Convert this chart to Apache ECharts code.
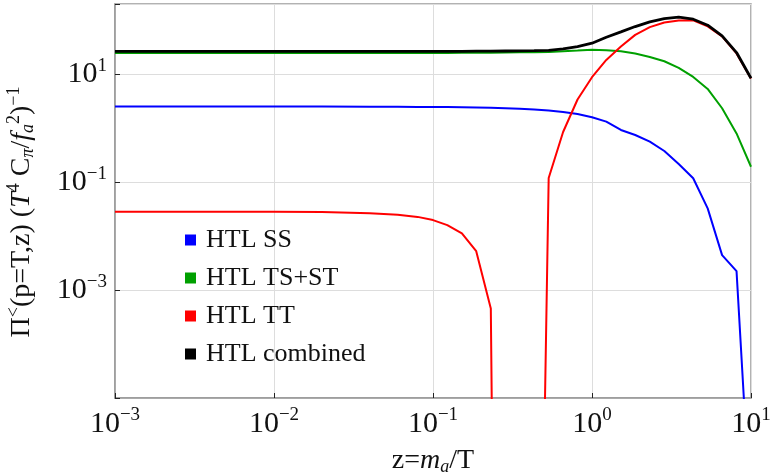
<!DOCTYPE html>
<html>
<head>
<meta charset="utf-8">
<script src="https://cdn.jsdelivr.net/npm/echarts@6/dist/echarts.min.js"></script>
<style>
  html, body { margin: 0; padding: 0; background: #fff; }
  #chart { width: 772px; height: 473px; }
</style>
</head>
<body>
<div id="chart"></div>
<script>
// z = m_a / T
const zValues = [0.001, 0.003, 0.01, 0.02, 0.04, 0.06, 0.08,
  0.1, 0.123, 0.152, 0.187, 0.231, 0.285, 0.351, 0.433, 0.534, 0.658, 0.811,
  1, 1.23, 1.52, 1.87, 2.31, 2.85, 3.51, 4.33, 5.34, 6.58, 8.11, 10];

const seriesNames = ['HTL SS', 'HTL TS+ST', 'HTL TT', 'HTL combined'];

const ssValues = [2.51, 2.51, 2.51, 2.51, 2.50, 2.49, 2.48,
  2.47, 2.46, 2.44, 2.42, 2.39, 2.35, 2.30, 2.23, 2.13, 2.0, 1.83,
  1.59, 1.32, 0.927, 0.748, 0.562, 0.378, 0.217, 0.118, 0.0326, 0.00444, 0.00224, 5e-8];

const tsValues = [24.6, 24.6, 24.6, 24.6, 24.6, 24.6, 24.6,
  24.7, 24.8, 24.9, 25.0, 25.1, 25.2, 25.4, 25.5, 25.7, 26.7, 27.4,
  28.3, 27.9, 26.7, 24.1, 20.9, 17.4, 13.1, 8.9, 5.33, 2.34, 0.80, 0.193];

// TT changes sign between ~0.25 and ~0.5 (null = negative, not drawn)
const ttValues = [0.0283, 0.0283, 0.0282, 0.0279, 0.0265, 0.0249, 0.0227,
  0.0198, 0.016, 0.0112, 0.00526, 4.55e-4, 1e-30, null, 1e-17, 0.119, 0.85, 3.4,
  8.8, 18.4, 32.5, 53.6, 74.5, 90.6, 98.7, 99.5, 77, 50.3, 24.3, 8.36];

const combinedValues = [26.5, 26.5, 26.5, 26.5, 26.5, 26.5, 26.5,
  26.5, 26.6, 26.6, 26.7, 26.8, 26.9, 27.0, 27.3, 27.7, 29.4, 32.5,
  37.6, 48.5, 60.9, 76.4, 93.3, 107.6, 114, 104.7, 81, 51.4, 25.2, 8.43];

const colors = ['#0000ff', '#00a000', '#ff0000', '#000000'];

const FONT = 'Liberation Serif';

function pairs(vals) {
  return zValues.map((z, i) => [z, vals[i] == null ? '-' : vals[i]]);
}

function powLabel(value) {
  const e = Math.round(Math.log10(value));
  if (Math.abs(Math.log10(value) - e) > 1e-6) return '';
  const s = e < 0 ? '\u2212' + (-e) : String(e);
  return '{b|10}{e|' + s + '}';
}

const labelRich = {
  b: { fontFamily: FONT, fontSize: 30, color: '#111' },
  e: { fontFamily: FONT, fontSize: 19, color: '#111', padding: [0, 0, 17, 0] }
};

const chart = echarts.init(document.getElementById('chart'));

const option = {
  animation: false,
  grid: {
    left: 115, right: 21, top: 4, bottom: 75,
    outerBoundsMode: 'none',
    containLabel: false,
    show: true, borderColor: '#999', borderWidth: 1.5
  },
  legend: {
    orient: 'vertical',
    left: 180, top: 222,
    icon: 'rect',
    itemWidth: 11, itemHeight: 11,
    itemGap: 12,
    textStyle: { fontFamily: FONT, fontSize: 26, color: '#111', padding: [0, 0, 0, 5] },
    data: seriesNames
  },
  xAxis: {
    type: 'log',
    min: 0.001, max: 10,
    name: '{n|z=}{i|m}{s|a}{n|/T}',
    nameLocation: 'middle',
    nameGap: 48,
    nameTextStyle: {
      rich: {
        n: { fontFamily: FONT, fontSize: 28, color: '#111' },
        i: { fontFamily: FONT, fontSize: 28, fontStyle: 'italic', color: '#111' },
        s: { fontFamily: FONT, fontSize: 18, fontStyle: 'italic', color: '#111', padding: [12, 0, 0, 0] }
      }
    },
    axisLine: { show: true, lineStyle: { color: '#999', width: 1.5 } },
    axisTick: { inside: true, length: 5, lineStyle: { color: '#222' } },
    minorTick: { show: false },
    splitLine: { show: true, lineStyle: { color: '#ddd', width: 1 } },
    axisLabel: { formatter: powLabel, margin: 8, rich: labelRich }
  },
  yAxis: {
    type: 'log',
    min: 1e-5, max: 200,
    interval: 2,
    name: '{n|\u03A0}{p|<}{n|(p=T,z) (}{i|T}{p|4}{n| C}{s|\u03C0}{n|/}{i|f}{s|a}{p|2}{n|)}{p|\u22121}',
    nameLocation: 'middle',
    nameRotate: 90,
    nameGap: 76,
    nameTextStyle: {
      padding: [0, 22, 0, 0],
      rich: {
        n: { fontFamily: FONT, fontSize: 28, color: '#111' },
        i: { fontFamily: FONT, fontSize: 28, fontStyle: 'italic', color: '#111' },
        p: { fontFamily: FONT, fontSize: 18, color: '#111', padding: [0, 0, 16, 0] },
        s: { fontFamily: FONT, fontSize: 18, fontStyle: 'italic', color: '#111', padding: [12, 0, 0, 0] }
      }
    },
    axisLine: { show: true, lineStyle: { color: '#999', width: 1.5 } },
    axisTick: { inside: true, length: 5, lineStyle: { color: '#222' } },
    splitLine: { show: true, lineStyle: { color: '#ddd', width: 1 } },
    axisLabel: {
      margin: 8,
      rich: labelRich,
      formatter: function (value) {
        if (value < 2e-5 || value > 100) return '';
        return powLabel(value);
      }
    }
  },
  series: [ssValues, tsValues, ttValues, combinedValues].map((vals, i) => ({
    name: seriesNames[i],
    type: 'line',
    data: pairs(vals),
    symbol: 'none',
    clip: true,
    connectNulls: false,
    color: colors[i],
    lineStyle: { color: colors[i], width: i === 3 ? 2.8 : 2 },
    emphasis: { disabled: true },
    z: i === 3 ? 5 : 3
  }))
};

chart.setOption(option);
</script>
</body>
</html>
